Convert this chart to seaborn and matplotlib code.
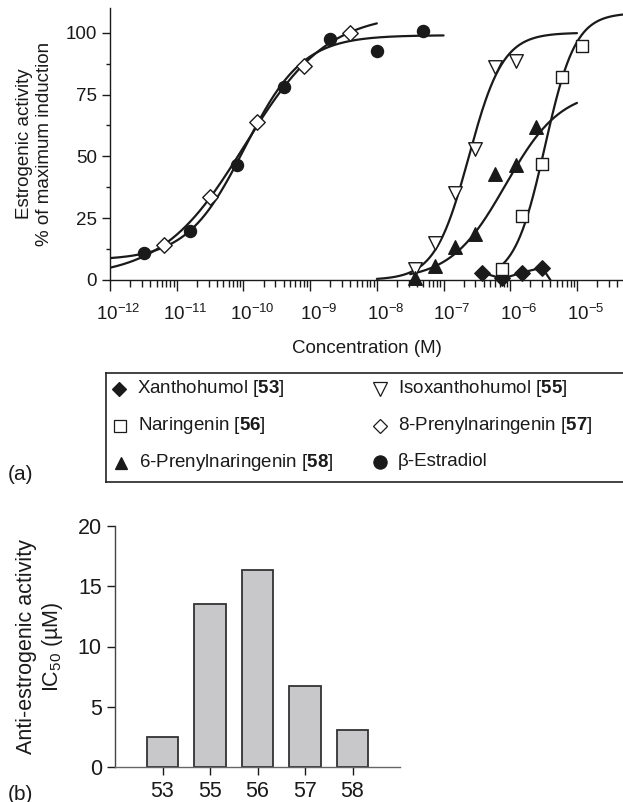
import numpy as np
import pandas as pd
import matplotlib
matplotlib.use("Agg")
import matplotlib.pyplot as plt
import matplotlib.transforms as mtransforms
import seaborn as sns
from matplotlib.ticker import LogLocator, NullFormatter, FixedLocator

sns.set_theme(style="ticks")
plt.rcParams['font.family'] = ['Liberation Sans', 'DejaVu Sans']
plt.rcParams['mathtext.fontset'] = 'custom'
plt.rcParams['mathtext.rm'] = 'Liberation Sans'
plt.rcParams['mathtext.it'] = 'Liberation Sans:italic'
plt.rcParams['mathtext.bf'] = 'Liberation Sans:bold'
plt.rcParams['mathtext.sf'] = 'Liberation Sans'

FS = 13.5
FSB = 15.5
INK = '#1a1a1a'

# ---------------- data ----------------
xanth_conc = [3.8e-7, 7.6e-7, 1.5e-6, 3.0e-6]
xanth_act = [3.0, 1.0, 3.0, 5.0]
xanth_line_conc = [3.8e-7, 7.6e-7, 1.5e-6, 3.0e-6, 4.0e-6]
xanth_line_act = [3.0, 0.5, 3.0, 5.0, 0.0]

isoxan_conc = [3.7e-8, 7.5e-8, 1.5e-7, 3.0e-7, 6.0e-7, 1.2e-6]
isoxan_act = [4.5, 15.0, 35.0, 53.0, 86.0, 88.5]

naring_conc = [7.6e-7, 1.5e-6, 3.0e-6, 6.0e-6, 1.2e-5]
naring_act = [4.5, 26.0, 47.0, 82.0, 94.5]

prenyl8_conc = [6.4e-12, 3.2e-11, 1.6e-10, 8.0e-10, 4.0e-9]
prenyl8_act = [14.0, 33.5, 64.0, 86.5, 100.0]

prenyl6_conc = [3.7e-8, 7.5e-8, 1.5e-7, 3.0e-7, 6.0e-7, 1.2e-6, 2.4e-6]
prenyl6_act = [1.0, 5.5, 13.5, 18.5, 43.0, 46.5, 62.0]

estradiol_conc = [3.2e-12, 1.6e-11, 8.0e-11, 4.0e-10, 2.0e-9, 1.0e-8, 5.0e-8]
estradiol_act = [11.0, 20.0, 46.5, 78.0, 97.5, 92.5, 100.5]

# fitted dose-response (Hill) parameters: bottom, top, log10 EC50, Hill slope, log10 range
estradiol_fit = [8.0, 99.0, -9.98, 1.0, -12.0, -7.0]
prenyl8_fit = [1.0, 108.0, -9.98, 0.7, -12.0, -8.0]
isoxan_fit = [0.0, 100.0, -6.62, 1.7, -8.0, -5.0]
prenyl6_fit = [0.0, 77.0, -6.07, 1.05, -7.5, -5.0]
naring_fit = [0.0, 108.0, -5.48, 1.9, -6.1, -4.31]

# bar chart (b)
compounds = ['53', '55', '56', '57', '58']
ic50 = [2.45, 13.55, 16.35, 6.7, 3.05]

# ---------------- figure ----------------
W, H = 623, 802
fig = plt.figure(figsize=(W / 100, H / 100), dpi=100)


def rect(l, t, r, b):
    return [l / W, 1 - b / H, (r - l) / W, (b - t) / H]


ax = fig.add_axes(rect(110, 8, 623, 280))
ax.set_xscale('log')


def hill_curve(p):
    bottom, top, logec, n, lo, hi = p
    lx = np.linspace(lo, hi, 300)
    return 10 ** lx, bottom + (top - bottom) / (1 + 10 ** ((logec - lx) * n))


for p in [estradiol_fit, prenyl8_fit, isoxan_fit, prenyl6_fit, naring_fit]:
    cx, cy = hill_curve(p)
    sns.lineplot(x=cx, y=cy, ax=ax, color=INK, linewidth=1.6, sort=False,
                 estimator=None, zorder=2)
sns.lineplot(x=xanth_line_conc, y=xanth_line_act, ax=ax, color=INK, linewidth=1.6,
             sort=False, estimator=None, zorder=2)

common = dict(ax=ax, zorder=3, clip_on=False, edgecolor=INK, linewidth=1.0, legend=False)
sns.scatterplot(x=xanth_conc, y=xanth_act, marker='D', s=62, color=INK, **common)
sns.scatterplot(x=isoxan_conc, y=isoxan_act, marker='v', s=95, color='white', **common)
sns.scatterplot(x=prenyl6_conc, y=prenyl6_act, marker='^', s=95, color=INK, **common)
sns.scatterplot(x=naring_conc, y=naring_act, marker='s', s=78, color='white', **common)
sns.scatterplot(x=prenyl8_conc, y=prenyl8_act, marker='D', s=62, color='white', **common)
sns.scatterplot(x=estradiol_conc, y=estradiol_act, marker='o', s=75, color=INK, **common)

ax.set_xlim(1e-12, 10 ** -4.31)
ax.set_ylim(0, 110)
ax.xaxis.set_major_locator(FixedLocator([10.0 ** k for k in range(-12, -4)]))
ax.xaxis.set_minor_locator(LogLocator(base=10, subs=np.arange(2, 10), numticks=30))
ax.xaxis.set_minor_formatter(NullFormatter())
ax.yaxis.set_major_locator(FixedLocator([0, 25, 50, 75, 100]))
ax.yaxis.set_minor_locator(FixedLocator([12.5, 37.5, 62.5, 87.5]))
ax.set_xlabel('Concentration (M)', fontsize=FS, labelpad=11, color=INK)
ax.set_ylabel('Estrogenic activity\n% of maximum induction', fontsize=FS, labelpad=9,
              color=INK)
ax.tick_params(axis='both', which='major', direction='out', width=1.0,
               labelsize=FS, colors=INK)
ax.tick_params(axis='both', which='minor', direction='out', width=1.0, colors=INK)
ax.tick_params(axis='x', which='major', length=8, pad=9.5)
ax.tick_params(axis='x', which='minor', length=4.8)
ax.tick_params(axis='y', which='major', length=6)
ax.tick_params(axis='y', which='minor', length=3)
sns.despine(ax=ax)
for s in ['left', 'bottom']:
    ax.spines[s].set_linewidth(1.0)
    ax.spines[s].set_color(INK)
ax.set_facecolor('none')
# the reference centres the base "10" of each power label under its tick
shift = mtransforms.ScaledTranslation(8.5 / 100, 0, fig.dpi_scale_trans)
for lab in ax.get_xticklabels():
    lab.set_transform(lab.get_transform() + shift)

# ---------------- legend box ----------------
lg = fig.add_axes(rect(106, 373, 700, 482))
lg.set_xlim(106, 700)
lg.set_ylim(482, 373)
lg.set_xticks([])
lg.set_yticks([])
for s in ['top', 'bottom', 'left']:
    lg.spines[s].set_linewidth(1.2)
    lg.spines[s].set_color('#222222')
lg.spines['right'].set_visible(False)
lg.set_facecolor('none')

legend_items = [
    (119, 389, 'D', INK, 7.0, 'Xanthohumol [$\\mathbf{53}$]'),
    (120, 426, 's', 'white', 8.0, 'Naringenin [$\\mathbf{56}$]'),
    (121, 463, '^', INK, 9.0, '6-Prenylnaringenin [$\\mathbf{58}$]'),
    (380, 389, 'v', 'white', 10.5, 'Isoxanthohumol [$\\mathbf{55}$]'),
    (380, 426, 'D', 'white', 7.5, '8-Prenylnaringenin [$\\mathbf{57}$]'),
    (380, 462, 'o', INK, 9.5, '\u03b2-Estradiol'),
]
for (mx, my, mk, fc, ms, label) in legend_items:
    lg.plot([mx], [my], marker=mk, markersize=ms, markerfacecolor=fc,
            markeredgecolor=INK, markeredgewidth=0.9, linestyle='none', clip_on=False)
    lg.text(mx + 18, my, label, fontsize=FS, va='center', ha='left', color=INK)

fig.text(8 / W, 1 - 475 / H, '(a)', fontsize=15, va='center', ha='left', color=INK)
fig.text(8 / W, 1 - 794 / H, '(b)', fontsize=15, va='center', ha='left', color=INK)

# ---------------- bar chart (b) ----------------
bx = fig.add_axes(rect(115, 526, 400, 767))
df = pd.DataFrame({'compound': compounds, 'ic50': ic50})
sns.barplot(data=df, x='compound', y='ic50', ax=bx, color='#c8c8ca', saturation=1,
            edgecolor='#333333', linewidth=1.3, width=0.66)
bx.set_xlim(-1, 5)
bx.set_ylim(0, 20)
bx.yaxis.set_major_locator(FixedLocator([0, 5, 10, 15, 20]))
bx.set_xlabel('')
bx.set_ylabel('Anti-estrogenic activity\nIC$_{50}$ ($\\mathrm{\u00b5}$M)', fontsize=FSB,
              labelpad=9, color=INK)
bx.tick_params(axis='both', direction='out', length=6, width=1.0, labelsize=FSB,
               colors=INK)
bx.tick_params(axis='x', pad=4)
sns.despine(ax=bx)
bx.spines['left'].set_color('#444444')
bx.spines['bottom'].set_color('#666666')
bx.spines['left'].set_linewidth(1.0)
bx.spines['bottom'].set_linewidth(1.0)
bx.set_facecolor('none')

fig.savefig('out.png', dpi=100)
